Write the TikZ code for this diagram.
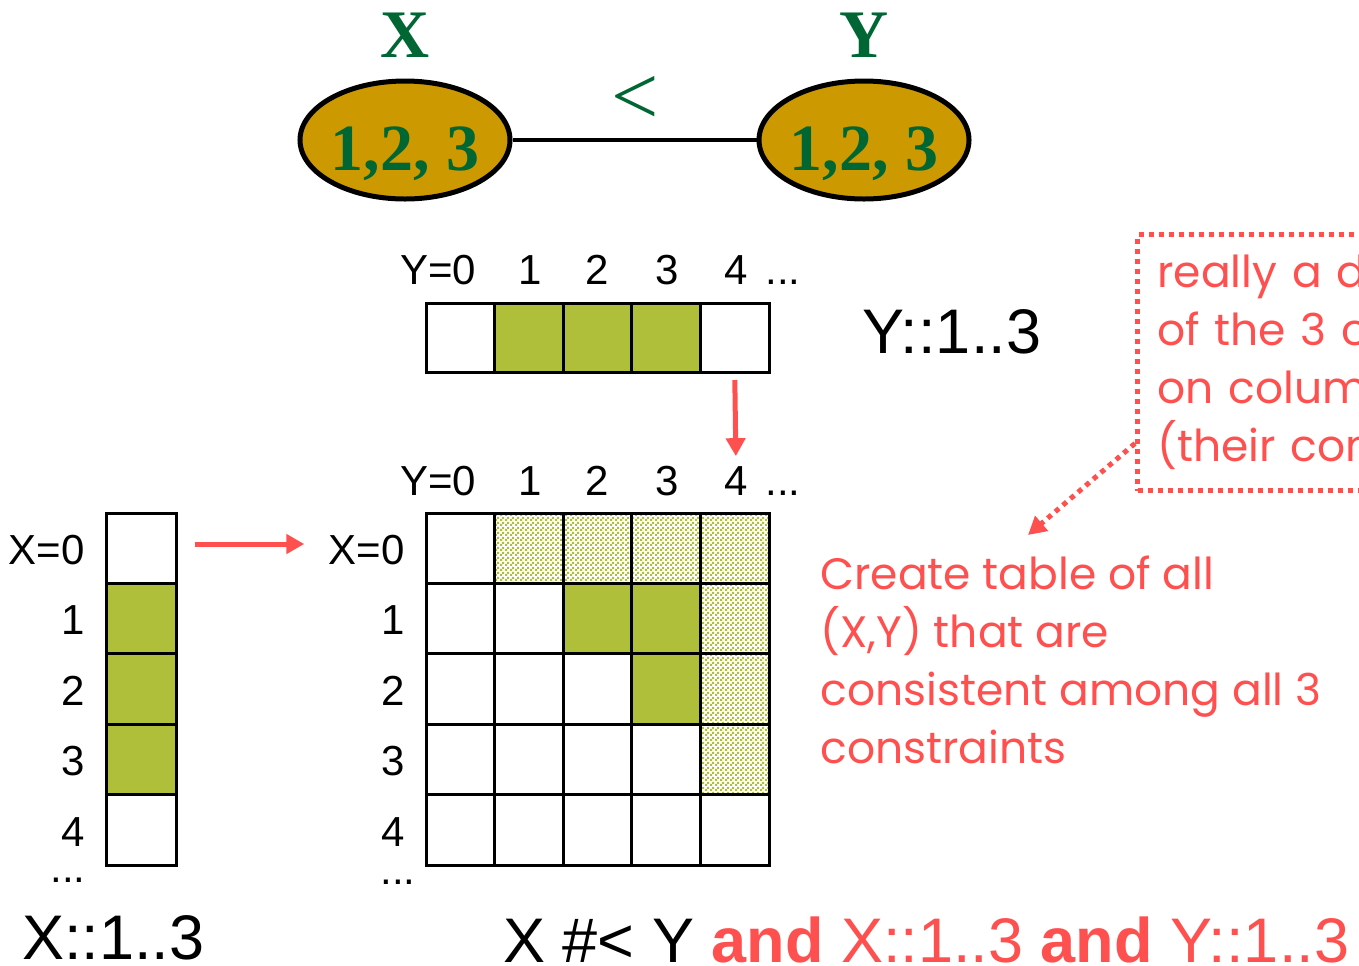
\documentclass[tikz,border=0pt]{standalone}
\usepackage{fontspec}
\setmainfont{Liberation Sans}
\newfontfamily\timesf{Liberation Serif}
\newfontfamily\comicf{Poppins}
\usetikzlibrary{arrows.meta,positioning,shapes.geometric,patterns,calc}
\definecolor{dgreen}{HTML}{006633}
\definecolor{gold}{HTML}{CC9900}
\definecolor{oliv}{HTML}{B0BF3A}
\definecolor{redn}{HTML}{FF5050}
\pgfdeclarepatternformonly{checker}{\pgfpointorigin}{\pgfpoint{2.5pt}{2.5pt}}{\pgfpoint{2.5pt}{2.5pt}}
  {\pgfpathrectangle{\pgfpointorigin}{\pgfpoint{1.25pt}{1.25pt}}
   \pgfpathrectangle{\pgfpoint{1.25pt}{1.25pt}}{\pgfpoint{1.25pt}{1.25pt}}
   \pgfusepath{fill}}
\tikzset{
  var/.style      = {ellipse, draw, line width=2.5pt, fill=gold, minimum width=98pt,
                     minimum height=59pt, inner sep=0pt, text=dgreen,
                     text height=30pt, text depth=0pt,
                     font=\timesf\bfseries\fontsize{33}{33}\selectfont},
  varlbl/.style   = {font=\timesf\bfseries\fontsize{34}{34}\selectfont, text=dgreen, inner sep=0pt},
  cell/.style     = {draw, line width=1.5pt, minimum width=34.3pt, minimum height=35.2pt,
                     inner sep=0pt, outer sep=0pt},
  solidcell/.style = {cell, fill=oliv},
  hatchcell/.style = {cell, pattern=checker, pattern color=oliv},
  lbl/.style      = {font=\fontsize{21}{21}\selectfont, inner sep=0pt},
  big/.style      = {font=\fontsize{31.5}{31.5}\selectfont, inner sep=0pt, anchor=west},
  note/.style     = {font=\comicf\fontsize{22}{29}\selectfont, text=redn, align=left, inner sep=0pt},
  redarr/.style   = {-{Triangle[length=9pt,width=9.5pt]}, line width=2.5pt, redn},
  dotarr/.style   = {-{Triangle[length=9pt,width=9.5pt]}, line width=2.5pt, redn,
                     dash pattern=on 2.5pt off 2.5pt}
}

\begin{document}
\begin{tikzpicture}[x=0.5pt, y=-0.5pt]
\clip (0,0) rectangle (1359,965);

% ---------------- constraint graph ----------------
\node[var] (vx) at (405,140) {1,2, 3};
\node[var] (vy) at (864,140) {1,2, 3};
\node[varlbl] (lx) at (405,35) {X};
\node[varlbl] (ly) at (864,35) {Y};
\draw[line width=2pt] (vx) -- (vy);
\node[varlbl, font=\timesf\fontsize{42}{42}\selectfont] (lt) at (635,100) {<};

% ---------------- domain of Y ----------------
\foreach \c/\s in {0/cell,1/solidcell,2/solidcell,3/solidcell,4/cell}
  \node[\s, minimum height=34.5pt] (yd-\c) at ({460.3+68.6*\c},337.5) {};
\foreach \c/\t/\x in {0/Y=0/438,1/1/530,2/2/597,3/3/667,4/4/736}
  \node[lbl] (yt-\c) at (\x,270) {\t};
\node[lbl] (ytd) at (783,282) {...};
\node[big] (ydom) at (862,332) {Y::1..3};

% ---------------- domain of X ----------------
\foreach \r/\s in {0/cell,1/solidcell,2/solidcell,3/solidcell,4/cell}
  \node[\s, minimum width=35pt] (xd-\r) at (141,{548.2+70.4*\r}) {};
\foreach \r/\t in {0/X=0,1/1,2/2,3/3,4/4}
  \node[lbl, anchor=east] (xt-\r) at (85,{550+70.4*\r}) {\t};
\node[lbl] (xtd) at (68,880) {...};
\node[big] (xdom) at (22,938) {X::1..3};

% ---------------- table of (X,Y) ----------------
\foreach \r in {0,...,4}
  \foreach \c in {0,...,4}
    \node[cell] (tb-\r-\c) at ({460.3+68.6*\c},{548.2+70.4*\r}) {};
\foreach \r/\c in {0/1,0/2,0/3,0/4,1/4,2/4,3/4}
  \node[hatchcell] at (tb-\r-\c) {};
\foreach \r/\c in {1/2,1/3,2/3}
  \node[solidcell] at (tb-\r-\c) {};
\foreach \c/\t/\x in {0/Y=0/438,1/1/530,2/2/597,3/3/667,4/4/736}
  \node[lbl] (tc-\c) at (\x,481) {\t};
\node[lbl] (tcd) at (783,493) {...};
\foreach \r/\t in {0/X=0,1/1,2/2,3/3,4/4}
  \node[lbl, anchor=east] (tr-\r) at (405,{550+70.4*\r}) {\t};
\node[lbl] (trd) at (398,882) {...};

% ---------------- arrows ----------------
\draw[redarr, shorten <=4pt, shorten >=5pt] (yd-4.south) -- (tc-4.north);
\draw[redarr, shorten <=9.5pt, shorten >=12pt] (xd-0.east |- 0,544) -- (tr-0.west |- 0,544);

% ---------------- notes ----------------
\node[note, anchor=north west] (create) at (820,555)
  {Create table of all\\(X,Y) that are\\consistent among all 3\\constraints};
\node[note, draw=redn, line width=2.5pt, dash pattern=on 2.5pt off 2.5pt, anchor=north west,
      inner sep=10pt, minimum height=128pt, text width=300pt] (join) at (1135,232)
  {really a database\\of the 3 constraints\\on columns\\(their common};
\coordinate (tip) at (1028,535);
\draw[dotarr] ($(join.south west)!0.19!(join.north west)$) -- (tip);

% ---------------- constraint text ----------------
\node[big] (cons) at (503,940)
  {X \#< Y \textcolor{redn}{\textbf{and} X::1..3 \textbf{and} Y::1..3}};

\end{tikzpicture}
\end{document}
